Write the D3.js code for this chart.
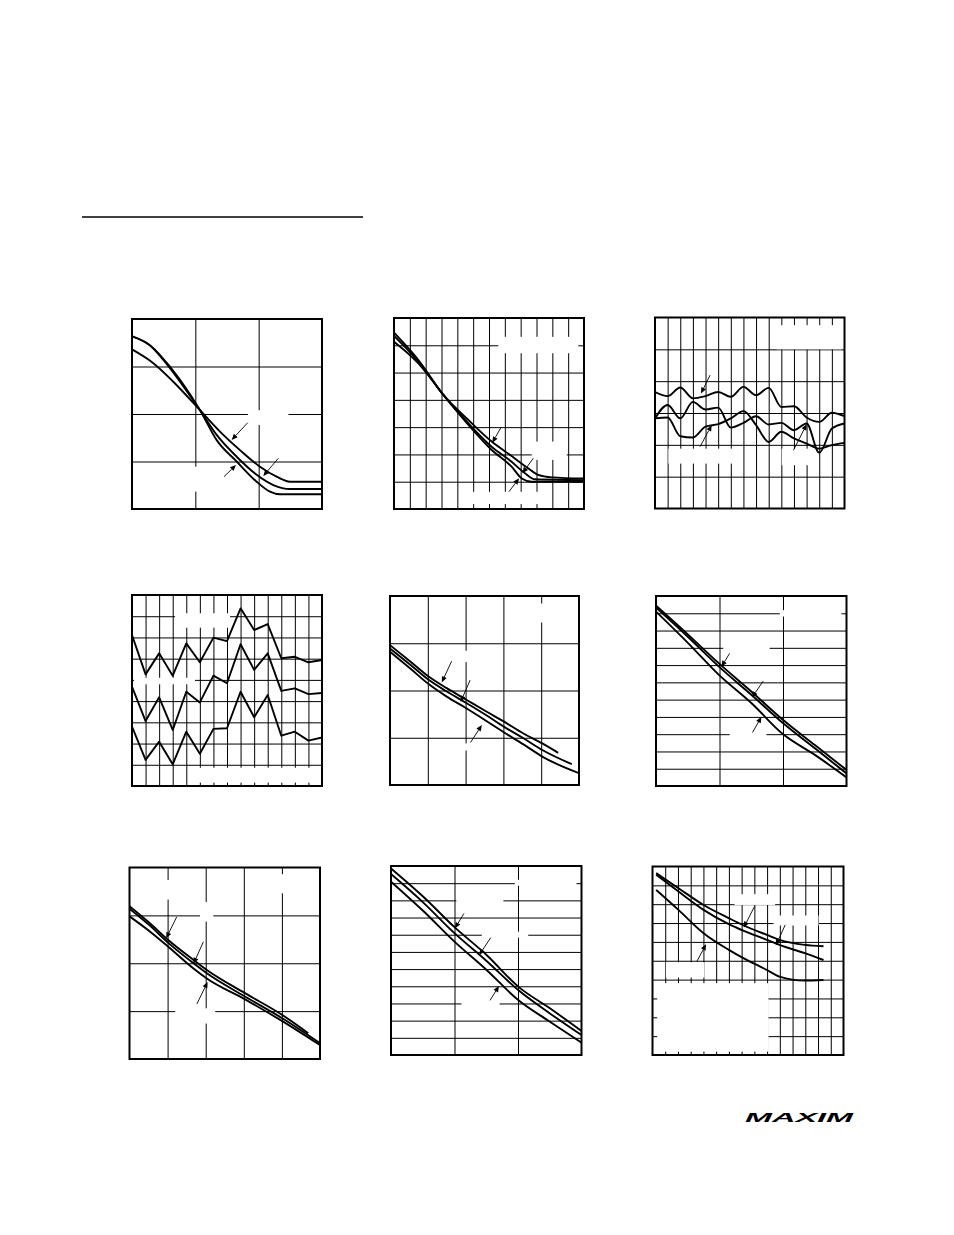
<!DOCTYPE html>
<html><head><meta charset="utf-8">
<script src="https://cdn.jsdelivr.net/npm/d3@7"></script>
<style>html,body{margin:0;padding:0;background:#fff;} svg{display:block;}</style>
</head><body>
<svg id="page" width="954" height="1235"></svg>
<script>
// ---------- Panel 1 ----------
const c1A = [[0,3.36],[0.337,3.07],[0.652,2.68],[1.074,2.08],[1.389,1.63],[1.705,1.24],[2.021,0.89],[2.284,0.68],[2.495,0.575],[3,0.575]];
const c1B = [[0,3.64],[0.337,3.38],[0.495,3.14],[1.074,2.08],[1.337,1.56],[1.653,1.10],[1.968,0.72],[2.231,0.505],[2.495,0.42],[3,0.42]];
const c1C = [[0,3.63],[0.284,3.45],[0.442,3.24],[1.074,2.08],[1.337,1.45],[1.653,1.0],[1.968,0.575],[2.179,0.365],[2.337,0.31],[3,0.31]];
const c1Arrows = [[1.827,1.817,1.574,1.453],[1.453,0.68,1.642,0.926],[2.31,1.067,2.073,0.695]];
const c1Masks = [[1.83,2.08,2.47,1.77],[0.86,0.89,1.18,0.365]];

// ---------- Panel 2 ----------
const c2A = [[0,6.46],[1.54,5.46],[3.12,4.18],[4.70,3.26],[6.17,2.47],[7.43,1.94],[8.48,1.49],[9.11,1.25],[9.96,1.16],[12,1.12]];
const c2B = [[0,6.34],[1.54,5.40],[3.12,4.18],[4.70,3.14],[6.17,2.28],[7.43,1.73],[8.27,1.31],[8.91,1.09],[12,1.06]];
const c2C = [[0,6.13],[1.54,5.34],[3.12,4.18],[4.70,3.08],[6.17,2.16],[7.43,1.55],[8.07,1.12],[8.70,1.0],[12,1.0]];
const c2Arrows = [[6.76,2.99,6.21,2.43],[8.80,1.86,8.11,1.31],[7.26,0.634,7.90,1.125]];
const c2Masks = [[6.59,6.31,11.64,5.71],[4.80,0.63,9.12,0.18],[8.70,2.47,10.91,1.80]];

// ---------- Panel 3 ----------
const c3A = [[0,3.66],[1,3.53],[2,3.80],[3,3.46],[4,3.53],[5,3.66],[6,3.51],[7,3.82],[8,3.56],[9,3.79],[10,3.19],[11,3.21],[12,2.86],[13,2.72],[14,3.01],[15,2.90]];
const c3B = [[0,2.83],[1,3.25],[2,2.83],[3,3.35],[4,3.11],[5,3.17],[6,2.54],[7,2.69],[8,2.90],[9,2.64],[10,2.69],[11,2.46],[12,2.67],[13,1.75],[14,2.51],[15,2.67]];
const c3C = [[0,2.83],[1,2.86],[2,2.27],[3,2.23],[4,2.57],[5,2.65],[6,2.83],[7,3.06],[8,2.62],[9,2.09],[10,2.41],[11,2.20],[12,2.04],[13,1.88],[14,1.99],[15,2.06]];
const c3Arrows = [[4.36,4.19,3.64,3.61],[3.56,1.94,4.49,2.62],[10.96,1.83,12.01,2.65]];
const c3Masks = [[9.64,5.76,14.8,5.0],[1.06,1.88,6.21,1.41],[10.03,1.88,12.94,1.36]];

// ---------- Panel 4 ----------
const c4A = [[0,7.11],[1,5.26],[2,6.25],[3,5.20],[4,6.72],[5,5.83],[6,6.99],[7,6.83],[8,8.37],[9,7.35],[10,7.63],[11,6.02],[12,6.09],[13,5.83],[14,5.94]];
const c4B = [[0,4.68],[1,3.06],[2,4.18],[3,2.64],[4,4.44],[5,3.94],[6,5.20],[7,4.84],[8,6.68],[9,5.47],[10,6.25],[11,4.48],[12,4.60],[13,4.33],[14,4.38]];
const c4C = [[0,2.80],[1,1.23],[2,2.09],[3,1.02],[4,2.56],[5,1.52],[6,2.69],[7,2.72],[8,4.44],[9,3.24],[10,4.29],[11,2.37],[12,2.56],[13,2.14],[14,2.29]];
const c4Masks = [[3.17,8.14,7.22,7.46],[0.15,5.10,4.64,4.79],[4.81,0.86,14.0,0.16]];

// ---------- Panel 5 ----------
const c5A = [[0,2.96],[0.529,2.62],[1.03,2.29],[1.5,2.05],[2.03,1.80],[2.56,1.55],[3.02,1.34],[3.53,1.09],[4.03,0.88],[4.45,0.68]];
const c5B = [[0,2.89],[0.529,2.55],[1.03,2.22],[1.5,1.98],[2.03,1.73],[2.56,1.47],[3.02,1.23],[3.53,0.99],[4.03,0.74],[4.81,0.44]];
const c5C = [[0,2.82],[0.529,2.47],[1.03,2.13],[1.5,1.87],[2.03,1.62],[2.56,1.35],[3.02,1.11],[3.53,0.86],[4.03,0.60],[5.0,0.25]];
const c5Arrows = [[1.63,2.62,1.37,2.17],[2.12,2.22,1.87,1.76],[2.13,0.90,2.43,1.27]];
const c5Masks = [[3.88,3.84,4.23,3.44],[1.85,2.84,2.29,2.60],[1.85,0.88,2.29,0.73]];

// ---------- Panel 6 ----------
const c6A = [[0,10.44],[0.509,8.75],[0.991,7.10],[1.505,5.46],[2.003,3.82],[2.502,2.37],[3,0.93]];
const c6B = [[0,10.33],[0.509,8.61],[0.991,6.91],[1.505,5.27],[2.003,3.63],[2.502,2.18],[3,0.73]];
const c6C = [[0,10.10],[0.509,8.26],[0.991,6.43],[1.505,4.79],[2.003,2.99],[2.502,1.80],[3,0.50]];
const c6Arrows = [[1.16,7.68,1.03,6.91],[1.69,6.08,1.51,5.12],[1.52,3.10,1.66,4.01]];
const c6Masks = [[1.95,10.18,2.92,9.81],[1.06,8.2,1.79,7.8],[1.16,3.15,1.74,2.76]];

// ---------- Panel 7 ----------
const c7A = [[0,3.19],[0.542,2.83],[1.04,2.47],[1.68,2.07],[2.03,1.86],[3.02,1.38],[4.01,0.92],[4.69,0.54]];
const c7B = [[0,3.14],[0.542,2.78],[1.04,2.41],[1.68,2.00],[2.03,1.79],[3.02,1.31],[4.01,0.85],[5,0.33]];
const c7C = [[0,2.98],[0.542,2.66],[1.04,2.33],[1.68,1.89],[2.03,1.68],[3.02,1.25],[4.01,0.79],[5,0.29]];
const c7Arrows = [[1.24,2.97,0.962,2.52],[1.94,2.45,1.68,1.99],[1.77,1.15,2.05,1.61]];
const c7Masks = [[0.89,3.74,1.20,3.33],[3.86,3.86,4.17,3.46],[1.85,3.28,2.20,2.87],[1.20,1.06,2.25,0.74]];

// ---------- Panel 8 ----------
const c8A = [[0,10.86],[0.509,9.21],[0.991,7.47],[1.505,5.82],[2.003,3.98],[2.502,2.72],[3,1.40]];
const c8B = [[0,10.53],[0.509,8.87],[0.991,7.12],[1.505,5.47],[2.003,3.78],[2.502,2.42],[3,1.16]];
const c8C = [[0,10.09],[0.509,8.38],[0.991,6.63],[1.505,4.95],[2.003,3.20],[2.502,1.94],[3,0.72]];
const c8Arrows = [[1.149,8.24,1.007,7.37],[1.57,6.83,1.39,5.82],[1.56,3.18,1.70,4.02]];
const c8Masks = [[1.95,10.2,2.92,9.85],[1.03,9.21,1.77,8.88],[1.43,7.18,2.16,6.83],[1.11,3.14,1.71,2.79]];

// ---------- Panel 9 ----------
const c9A = [[0.288,9.65],[2.04,8.85],[4.01,7.96],[5.99,7.26],[7.17,6.87],[8.98,6.37],[9.97,6.11],[11.96,5.84],[13.43,5.77]];
const c9B = [[0.288,9.56],[2.04,8.67],[4.01,7.70],[5.99,6.94],[7.17,6.58],[8.98,6.11],[9.97,5.84],[11.96,5.40],[13.43,5.04]];
const c9C = [[0.288,8.76],[2.04,7.70],[4.01,6.46],[5.99,5.58],[7.17,5.13],[8.98,4.51],[9.97,4.16],[11.96,3.95],[13.43,3.98]];
const c9Arrows = [[8.01,7.88,7.17,6.76],[10.42,6.90,9.69,5.81],[3.48,4.96,4.21,5.88]];
const c9Masks = [[0.37,3.81,9.11,0.18],[6.44,8.53,9.63,7.96],[9.50,7.40,13.04,6.87],[1.05,4.92,4.08,4.11]];

const logoText = "MAXIM";

// ---------- Layout ----------
const panels = [
  {box:[132,319,190,190], xd:[0,3],  yd:[0,4],  series:[c1A,c1B,c1C], arrows:c1Arrows, masks:c1Masks, curve:d3.curveMonotoneX},
  {box:[394,318,190,191], xd:[0,12], yd:[0,7],  series:[c2A,c2B,c2C], arrows:c2Arrows, masks:c2Masks, curve:d3.curveMonotoneX},
  {box:[655,317.5,189.5,191], xd:[0,15], yd:[0,6], series:[c3A,c3B,c3C], arrows:c3Arrows, masks:c3Masks, curve:d3.curveMonotoneX},
  {box:[132,595,190,191], xd:[0,14], yd:[0,9],  series:[c4A,c4B,c4C], arrows:[], masks:c4Masks, curve:d3.curveLinear},
  {box:[390,596,189,189], xd:[0,5],  yd:[0,4],  series:[c5A,c5B,c5C], arrows:c5Arrows, masks:c5Masks, curve:d3.curveMonotoneX},
  {box:[656,596,190.5,190], xd:[0,3], yd:[0,11], series:[c6A,c6B,c6C], arrows:c6Arrows, masks:c6Masks, curve:d3.curveMonotoneX},
  {box:[129.5,867.5,190.5,191.5], xd:[0,5], yd:[0,4], series:[c7A,c7B,c7C], arrows:c7Arrows, masks:c7Masks, curve:d3.curveMonotoneX},
  {box:[391,866,190.5,189], xd:[0,3], yd:[0,11], series:[c8A,c8B,c8C], arrows:c8Arrows, masks:c8Masks, curve:d3.curveMonotoneX},
  {box:[652.5,866.5,191,188.5], xd:[0,15], yd:[0,10], series:[c9A,c9B,c9C], arrows:c9Arrows, masks:c9Masks, curve:d3.curveMonotoneX}
];

const page = d3.select("#page");
page.append("rect").attr("width",954).attr("height",1235).attr("fill","#fff");

// header rule
page.append("line").attr("x1",82).attr("x2",363).attr("y1",217).attr("y2",217)
  .attr("stroke","#000").attr("stroke-width",1.3);

panels.forEach((p,i)=>{
  const [bx,by,bw,bh] = p.box;
  const x = d3.scaleLinear().domain(p.xd).range([bx,bx+bw]);
  const y = d3.scaleLinear().domain(p.yd).range([by+bh,by]);
  const g = page.append("g");
  const clipId = "clip"+i;
  g.append("clipPath").attr("id",clipId).append("rect")
    .attr("x",bx).attr("y",by).attr("width",bw).attr("height",bh);

  // vertical grid
  g.append("g").attr("transform",`translate(0,${by+bh})`)
    .call(d3.axisBottom(x).tickValues(d3.range(p.xd[0]+1,p.xd[1])).tickSize(-bh).tickFormat(""))
    .call(s=>s.select(".domain").remove())
    .call(s=>s.selectAll(".tick line").attr("stroke","#000").attr("stroke-width",1));
  // horizontal grid
  g.append("g").attr("transform",`translate(${bx},0)`)
    .call(d3.axisLeft(y).tickValues(d3.range(p.yd[0]+1,p.yd[1])).tickSize(-bw).tickFormat(""))
    .call(s=>s.select(".domain").remove())
    .call(s=>s.selectAll(".tick line").attr("stroke","#000").attr("stroke-width",1));

  // blank label areas
  g.selectAll("rect.mask").data(p.masks).join("rect").attr("class","mask")
    .attr("x",d=>x(d[0])).attr("y",d=>y(d[1]))
    .attr("width",d=>x(d[2])-x(d[0])).attr("height",d=>y(d[3])-y(d[1]))
    .attr("fill","#fff");

  // series
  const line = d3.line().x(d=>x(d[0])).y(d=>y(d[1])).curve(p.curve);
  g.append("g").attr("clip-path",`url(#${clipId})`)
    .selectAll("path").data(p.series).join("path")
    .attr("d",line).attr("fill","none").attr("stroke","#000")
    .attr("stroke-width",1.9).attr("stroke-linejoin","round");

  // arrows
  p.arrows.forEach(a=>{
    const x0=x(a[0]), y0=y(a[1]), x1=x(a[2]), y1=y(a[3]);
    const dx=x1-x0, dy=y1-y0, L=Math.hypot(dx,dy), ux=dx/L, uy=dy/L;
    const hl=6, hw=2.6;
    const bxp=x1-ux*hl, byp=y1-uy*hl;
    g.append("line").attr("x1",x0).attr("y1",y0).attr("x2",bxp).attr("y2",byp)
      .attr("stroke","#000").attr("stroke-width",0.9);
    g.append("path")
      .attr("d",`M${x1},${y1}L${bxp-uy*hw},${byp+ux*hw}L${bxp+uy*hw},${byp-ux*hw}Z`)
      .attr("fill","#000");
  });

  // frame
  g.append("rect").attr("x",bx).attr("y",by).attr("width",bw).attr("height",bh)
    .attr("fill","none").attr("stroke","#000").attr("stroke-width",2);
});

// logo
page.append("text").attr("x",745).attr("y",1122)
  .attr("font-family","Liberation Sans, Arial, sans-serif")
  .attr("font-weight","bold").attr("font-style","italic")
  .attr("font-size",13).attr("textLength",108).attr("lengthAdjust","spacingAndGlyphs")
  .attr("fill","#000").text(logoText);
</script>
</body></html>
